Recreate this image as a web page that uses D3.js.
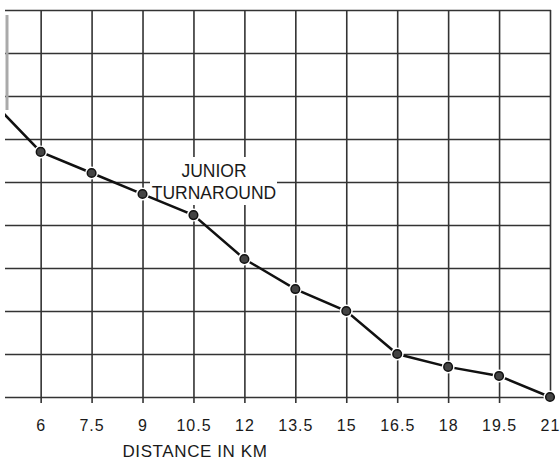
<!DOCTYPE html>
<html>
<head>
<meta charset="utf-8">
<script src="https://cdn.jsdelivr.net/npm/d3@7"></script>
<style>
  html, body { margin: 0; padding: 0; background: #fff; }
  svg { display: block; }
</style>
</head>
<body>
<script>
// distance (km) of each marked point; the first one lies just off the left edge
const distances = [4.5, 6, 7.5, 9, 10.5, 12, 13.5, 15, 16.5, 18, 19.5, 21];
// height in grid squares above the bottom line
const values = [6.93, 5.70, 5.21, 4.72, 4.23, 3.21, 2.51, 2.0, 1.0, 0.70, 0.49, 0.0];
const xTicks = [6, 7.5, 9, 10.5, 12, 13.5, 15, 16.5, 18, 19.5, 21];
const yTicks = [0, 1, 2, 3, 4, 5, 6, 7, 8, 9];
const noteLines = ["JUNIOR", "TURNAROUND"];
const xLabel = "DISTANCE IN KM";

const width = 560, height = 460;
const plot = { left: 5, right: 551, top: 10, bottom: 397 };

const svg = d3.select('body')
    .append('svg')
    .attr('width', width)
    .attr('height', height)
    .style('font-family', '"Liberation Sans", Arial, sans-serif');

const x = d3.scaleLinear()
    .domain([4.95, 21])
    .range([plot.left, 550]);
const y = d3.scaleLinear()
    .domain([0, 9])
    .range([plot.bottom, plot.top]);

svg.append('defs').append('clipPath')
    .attr('id', 'plot-clip')
    .append('rect')
    .attr('x', plot.left)
    .attr('y', 0)
    .attr('width', plot.right - plot.left + 10)
    .attr('height', plot.bottom + 10);

// horizontal grid
const yAxis = d3.axisLeft(y)
    .tickValues(yTicks)
    .tickSize(-(plot.right - plot.left))
    .tickFormat('');
const gy = svg.append('g')
    .attr('transform', `translate(${plot.left},0)`)
    .call(yAxis);
gy.select('.domain').remove();
gy.selectAll('line').attr('stroke', '#333').attr('stroke-width', 1.6);

// vertical grid + distance labels
const xAxis = d3.axisBottom(x)
    .tickValues(xTicks)
    .tickSize(-(plot.bottom + 6 - plot.top))
    .tickPadding(16)
    .tickFormat(d3.format('~g'));
const gx = svg.append('g')
    .attr('transform', `translate(0,${plot.bottom + 6})`)
    .call(xAxis);
gx.select('.domain').remove();
gx.selectAll('line').attr('stroke', '#333').attr('stroke-width', 1.6);
gx.selectAll('text')
    .attr('fill', '#1a1a1a')
    .attr('dy', '0.72em')
    .style('font-size', '16px')
    .style('letter-spacing', '1px');

// faint remnant of the left axis
svg.append('line')
    .attr('x1', 7).attr('x2', 7)
    .attr('y1', 15).attr('y2', 110)
    .attr('stroke', '#aaa')
    .attr('stroke-width', 3);

// white box behind the note
svg.append('rect')
    .attr('x', 150)
    .attr('y', 157)
    .attr('width', 127)
    .attr('height', 48)
    .attr('fill', '#fff');

const pts = distances.map((d, i) => [d, values[i]]);

const line = d3.line()
    .x(d => x(d[0]))
    .y(d => y(d[1]));

const g = svg.append('g').attr('clip-path', 'url(#plot-clip)');
g.append('path')
    .datum(pts)
    .attr('d', line)
    .attr('fill', 'none')
    .attr('stroke', '#111')
    .attr('stroke-width', 2.5);

g.selectAll('circle.halo')
    .data(pts)
    .enter()
    .append('circle')
    .attr('class', 'halo')
    .attr('cx', d => x(d[0]))
    .attr('cy', d => y(d[1]))
    .attr('r', 6.5)
    .attr('fill', '#fff');
g.selectAll('circle.dot')
    .data(pts)
    .enter()
    .append('circle')
    .attr('class', 'dot')
    .attr('cx', d => x(d[0]))
    .attr('cy', d => y(d[1]))
    .attr('r', 4.3)
    .attr('fill', '#444')
    .attr('stroke', '#111')
    .attr('stroke-width', 1.5);

svg.selectAll('text.note')
    .data(noteLines)
    .enter()
    .append('text')
    .attr('class', 'note')
    .attr('x', 214)
    .attr('y', (d, i) => 177 + i * 22)
    .attr('text-anchor', 'middle')
    .attr('fill', '#1a1a1a')
    .style('font-size', '17.5px')
    .text(d => d);

svg.append('text')
    .attr('x', 195)
    .attr('y', 457)
    .attr('text-anchor', 'middle')
    .attr('fill', '#1a1a1a')
    .style('font-size', '17px')
    .style('letter-spacing', '0.6px')
    .text(xLabel);
</script>
</body>
</html>
